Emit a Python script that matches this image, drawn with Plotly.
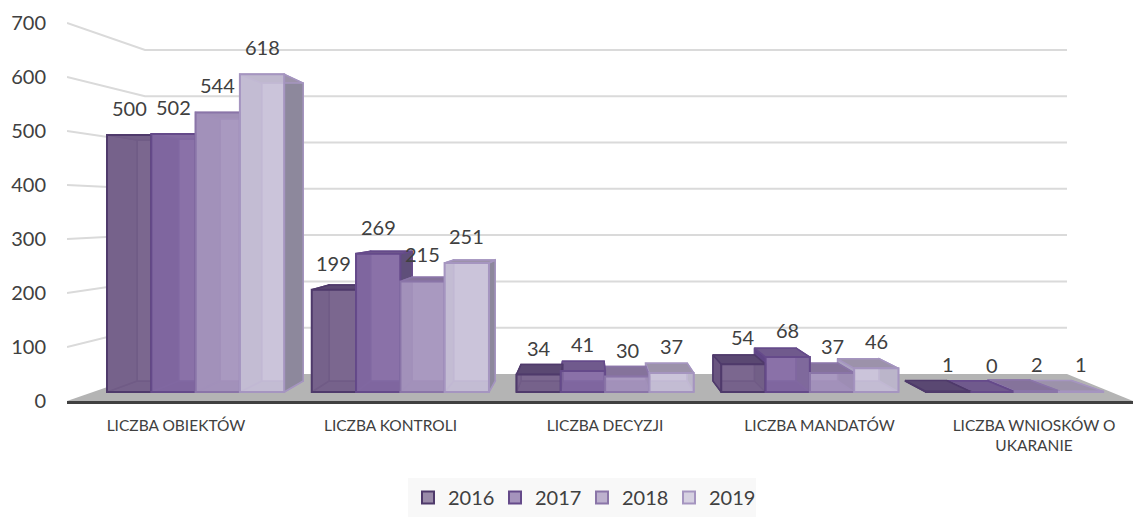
import plotly.graph_objects as go

categories = ["LICZBA OBIEKTÓW", "LICZBA KONTROLI", "LICZBA DECYZJI", "LICZBA MANDATÓW", "LICZBA WNIOSKÓW O<br>UKARANIE"]
years = ["2016", "2017", "2018", "2019"]
v2016 = [500, 199, 34, 54, 1]
v2017 = [502, 269, 41, 68, 0]
v2018 = [544, 215, 30, 37, 2]
v2019 = [618, 251, 37, 46, 1]
series = [v2016, v2017, v2018, v2019]
y_ticks = [0, 100, 200, 300, 400, 500, 600, 700]

back_col = ["#7b678f", "#8a72a8", "#a999c0", "#cbc4da"]
left_col = ["#6a5580", "#5f4585", "#8a78a8", "#aba2c0"]
right_col = ["#5a4a70", "#5f4f7a", "#7a6a90", "#8d889c"]
top_col = ["#5a4872", "#705a8d", "#85739b", "#9c92aa"]
edge_col = ["#4f3a6b", "#654a8a", "#8a75a8", "#a595c0"]
front_col = ["rgba(123,103,143,0.75)", "rgba(138,114,168,0.75)", "rgba(169,153,192,0.75)", "rgba(203,196,218,0.75)"]

W, H = 1133, 517
BOTTOM = 40
PLOT_H = H - BOTTOM
TXT = "#404040"
FONT = "Lato"

# main axes scale (wall)
def mx(px): return (px - 176) / 214.5
def my(py): return (401 - py) / 0.54

fig = go.Figure()

# floor
fig.add_trace(go.Scatter(x=[mx(p) for p in (67, 145, 1067, 1133)], y=[my(p) for p in (401, 374, 374, 401)],
                         fill="toself", fillcolor="#b4b4b4", mode="none", hoverinfo="skip", showlegend=False))
# gridlines (wall perspective)
for v in y_ticks[1:]:
    back = 374 - 0.463 * v
    fig.add_trace(go.Scatter(x=[mx(67), mx(145), mx(1067)], y=[my(401 - 0.54 * v), my(back), my(back)],
                             mode="lines", line=dict(color="#dadada", width=2), hoverinfo="skip", showlegend=False))

# depth faces: perspective of the bar box, in bar-axis units
S = 0.9377
VX = (589 - 195.6) / 204.75
VY = (392 - 215) / 0.514
BW = 44.3 / 204.75

def bx(x): return VX + (x - VX) * S
def by(y): return VY + (y - VY) * S

def face(xs, ys, fill, edge):
    fig.add_trace(go.Scatter(x=xs + xs[:1], y=ys + ys[:1], xaxis="x2", yaxis="y2", fill="toself", fillcolor=fill,
                             mode="lines", line=dict(color=edge, width=1.5), hoverinfo="skip", showlegend=False))

for i in range(len(categories)):
    order = range(4) if i + 0.0 < VX else range(3, -1, -1)
    for j in order:
        v = series[j][i]
        x0 = i + (j - 2) * BW
        x1 = x0 + BW
        e = edge_col[j]
        face([x0, x1, bx(x1), bx(x0)], [0, 0, by(0), by(0)], left_col[j], e)
        face([bx(x0), bx(x1), bx(x1), bx(x0)], [by(0), by(0), by(v), by(v)], back_col[j], e)
        face([x0, bx(x0), bx(x0), x0], [0, by(0), by(v), v], left_col[j], e)
        face([x1, bx(x1), bx(x1), x1], [0, by(0), by(v), v], right_col[j], e)
        face([x0, x1, bx(x1), bx(x0)], [v, v, by(v), by(v)], top_col[j], e)

# front faces
for j, y in enumerate(years):
    fig.add_trace(go.Bar(name=y, x=list(range(len(categories))), y=series[j], xaxis="x3", yaxis="y3",
                         marker=dict(color=front_col[j], line=dict(color=edge_col[j], width=2)),
                         hovertemplate="%{y}<extra>" + y + "</extra>"))

annotations = []
for j in range(4):
    for i in range(len(categories)):
        annotations.append(dict(x=i + (j - 1.5) * BW, y=series[j][i], xref="x3", yref="y3", yshift=27,
                                text=str(series[j][i]), showarrow=False,
                                font=dict(family=FONT, size=20, color=TXT)))

# overlaying axes share the domain of the main axes: px 67..W and px 401..0
bar_xr = [(67 - 195.6) / 204.75, (W - 195.6) / 204.75]
bar_yr = [(392 - 401) / 0.514, 392 / 0.514]
hidden = dict(visible=False, fixedrange=True)

fig.update_layout(
    width=W, height=H, margin=dict(l=0, r=0, t=0, b=BOTTOM), autosize=False,
    paper_bgcolor="white", plot_bgcolor="rgba(0,0,0,0)",
    barmode="group", bargap=1 - 4 * BW, bargroupgap=0,
    font=dict(family=FONT, color=TXT),
    xaxis=dict(domain=[67 / W, 1], range=[mx(67), mx(W)], tickvals=list(range(len(categories))), ticktext=categories,
               showgrid=False, zeroline=False, showline=True, linecolor="#404040", linewidth=3, ticks="",
               ticklabelstandoff=8, tickfont=dict(family=FONT, size=15.5, color=TXT), tickangle=0, fixedrange=True),
    yaxis=dict(domain=[(PLOT_H - 401) / PLOT_H, 1], range=[0, my(0)], tickvals=y_ticks, showgrid=False, zeroline=False,
               ticks="", ticklabelstandoff=20, tickfont=dict(family=FONT, size=20, color=TXT), fixedrange=True),
    xaxis2=dict(overlaying="x", range=bar_xr, anchor="y2", **hidden),
    yaxis2=dict(overlaying="y", range=bar_yr, anchor="x2", **hidden),
    xaxis3=dict(overlaying="x", range=bar_xr, anchor="y3", **hidden),
    yaxis3=dict(overlaying="y", range=bar_yr, anchor="x3", **hidden),
    legend=dict(orientation="h", x=408 / W, xanchor="left", y=-(478.5 - PLOT_H) / PLOT_H, yanchor="top",
                bgcolor="#f8f8f8", entrywidth=42, entrywidthmode="pixels",
                font=dict(family=FONT, size=20, color=TXT)),
    annotations=annotations,
)

fig.write_html("out.html", config=dict(displayModeBar=False), post_script="document.body.style.margin='0';")
